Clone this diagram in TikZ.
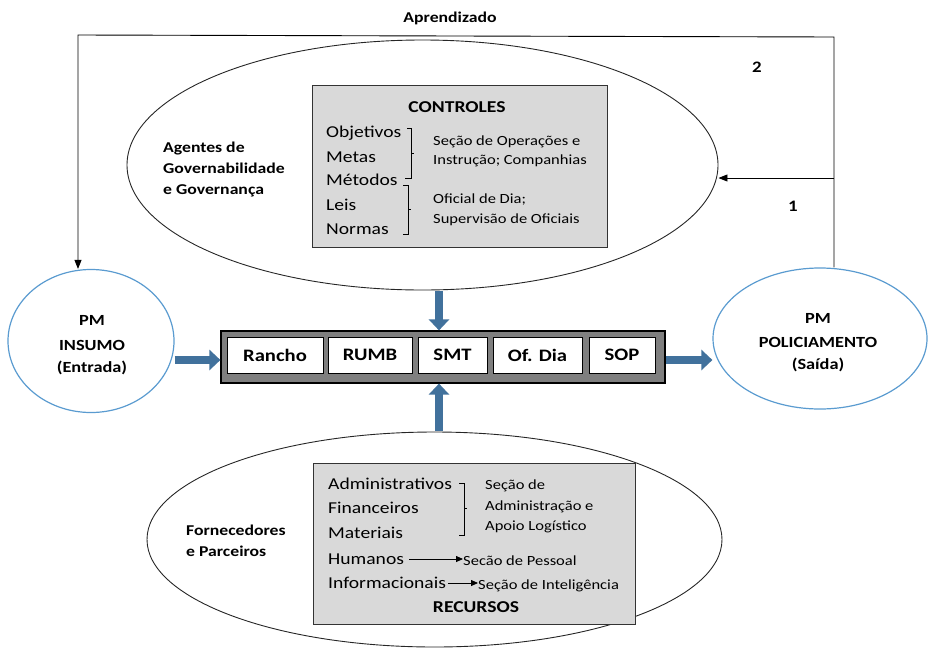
\documentclass[tikz,border=0pt]{standalone}
\usepackage{fontspec}
\setmainfont{Carlito}[FakeStretch=1.18]
\usetikzlibrary{arrows.meta,shapes.geometric}
\definecolor{arrblue}{HTML}{41719C}
\definecolor{ellblue}{HTML}{5A9BD0}
\definecolor{boxgray}{HTML}{D9D9D9}
\definecolor{darkgray}{HTML}{7F7F7F}
\begin{document}
\begin{tikzpicture}[x=1pt,y=-1pt,
  bigell/.style={ellipse,draw=black!85,line width=0.9pt,inner sep=0pt},
  pmell/.style={ellipse,draw=ellblue,line width=1.2pt,inner sep=0pt,align=center,font=\fontsize{15.5}{25}\selectfont\bfseries},
  grayrect/.style={draw=black!80,fill=boxgray,line width=0.9pt,inner sep=0pt},
  cell/.style={draw=black,fill=white,line width=0.9pt,inner sep=0pt,minimum height=36pt,font=\fontsize{17.5}{17.5}\selectfont\bfseries},
  item/.style={anchor=base west,inner sep=0pt,font=\fontsize{16.6}{16.6}\selectfont},
  small/.style={anchor=base west,inner sep=0pt,font=\fontsize{14}{14}\selectfont},
  lbl/.style={anchor=base west,inner sep=0pt,font=\fontsize{15}{15}\selectfont\bfseries},
  pmtxt/.style={anchor=base,inner sep=0pt,font=\fontsize{15.5}{15.5}\selectfont\bfseries},
  thick arrow/.style={draw=arrblue,line width=8pt,-{Triangle[width=20pt,length=11pt]}},
  fb/.style={draw=black,line width=0.9pt},
  brk/.style={draw=black,line width=0.8pt},
  smallarrow/.style={draw=black,line width=0.8pt,-{Triangle[width=6pt,length=7pt]}}
]
\useasboundingbox (0,0) rectangle (928,651);

% big ellipses
\node[bigell,minimum width=591pt,minimum height=250pt] (ctl) at (422.5,165) {};
\node[bigell,minimum width=575pt,minimum height=215pt] (rec) at (434.5,539.5) {};

% PM ellipses
\node[pmell,minimum width=166pt,minimum height=143pt] (insumo) at (91,341) {};
\node[pmell,minimum width=214pt,minimum height=141pt] (saida) at (820,338.5) {};
\node[pmtxt] (t1) at (92,325) {PM};
\node[pmtxt] (t2) at (92,350) {INSUMO};
\node[pmtxt] (t3) at (92,372) {(Entrada)};
\node[pmtxt] (t4) at (818,323) {PM};
\node[pmtxt] (t5) at (818,347) {POLICIAMENTO};
\node[pmtxt] (t6) at (818,369) {(Saída)};

% CONTROLES box
\node[grayrect,minimum width=295pt,minimum height=162pt] (cbox) at (459.5,166) {};
\node[anchor=base,inner sep=0pt,font=\fontsize{16.6}{16.6}\selectfont\bfseries] (ctitle) at (457,112) {CONTROLES};
\node[item] (c1) at (326,137) {Objetivos};
\node[item] (c2) at (326,162) {Metas};
\node[item] (c3) at (326,185) {Métodos};
\node[item] (c4) at (326,210) {Leis};
\node[item] (c5) at (326,234) {Normas};
\node[small] (s1) at (433,145) {Seção de Operações e};
\node[small] (s2) at (433,164) {Instrução; Companhias};
\node[small] (s3) at (433,203) {Oficial de Dia;};
\node[small] (s4) at (433,223) {Supervisão de Oficiais};
\draw[brk] (407,128) -- (411,128) -- (411,178) -- (405,178);
\draw[brk] (411,153) -- (414,153);
\draw[brk] (403,185) -- (408,185) -- (408,234) -- (403,234);
\draw[brk] (408,209) -- (411,209);

% side labels
\node[lbl] (a1) at (163,152) {Agentes de};
\node[lbl] (a2) at (163,173) {Governabilidade};
\node[lbl] (a3) at (163,194) {e Governança};
\node[lbl] (f1) at (186,535) {Fornecedores};
\node[lbl] (f2) at (186,556) {e Parceiros};

% RECURSOS box
\node[grayrect,minimum width=322pt,minimum height=161pt] (rbox) at (474.5,543.5) {};
\node[item] (r1) at (328,489) {Administrativos};
\node[item] (r2) at (328,513) {Financeiros};
\node[item] (r3) at (328,538) {Materiais};
\node[item] (r4) at (328,564) {Humanos};
\node[item] (r5) at (328,588) {Informacionais};
\node[anchor=base,inner sep=0pt,font=\fontsize{16.6}{16.6}\selectfont\bfseries] (rtitle) at (476,612) {RECURSOS};
\node[small] (q1) at (485,489) {Seção de};
\node[small] (q2) at (485,510) {Administração e};
\node[small] (q3) at (485,530) {Apoio Logístico};
\node[small] (q4) at (463,565) {Secão de Pessoal};
\node[small] (q5) at (478,589) {Seção de Inteligência};
\draw[brk] (459,483) -- (464,483) -- (464,535) -- (459,535);
\draw[brk] (464,508) -- (467,508);
\draw[smallarrow] ([xshift=5pt]r4.east |- 0,559) -- (q4.west |- 0,559);
\draw[smallarrow] ([xshift=2pt]r5.east |- 0,583) -- (q5.west |- 0,583);

% middle process box
\node[draw=black,fill=darkgray,line width=1.2pt,minimum width=444pt,minimum height=52pt,inner sep=0pt] (mid) at (443,357) {};
\node[cell,minimum width=96pt] (b1) at (275,355) {Rancho};
\node[cell,minimum width=84pt] (b2) at (370,355) {RUMB};
\node[cell,minimum width=69pt] (b3) at (452.5,355) {SMT};
\node[cell,minimum width=89pt] (b4) at (537.5,355) {Of. Dia};
\node[cell,minimum width=66pt] (b5) at (622,355) {SOP};

% thick blue arrows
\coordinate (dn) at (439,291);
\coordinate (up) at (439,431);
\draw[thick arrow] (dn) -- (dn |- mid.north);
\draw[thick arrow] (up) -- (up |- mid.south);
\draw[thick arrow] (insumo.east |- 0,360) -- (mid.west |- 0,360);
\draw[thick arrow] (mid.east |- 0,360) -- (saida.west |- 0,360);

% feedback loops
\coordinate (tl) at (78,35);
\coordinate (tr) at (834,37);
\coordinate (r1c) at (834,178);
\draw[fb,-{Triangle[width=7pt,length=9pt]}] (saida.north -| tr) -- (tr) -- (tl) -- (insumo.north -| tl);
\draw[fb,-{Triangle[width=7pt,length=9pt]}] (r1c) -- (ctl.east |- r1c);

\node[anchor=base,inner sep=0pt,font=\fontsize{15}{15}\selectfont\bfseries] (apr) at (450,22) {Aprendizado};
\node[anchor=base,inner sep=0pt,font=\fontsize{16}{16}\selectfont\bfseries] (n2) at (757,72) {2};
\node[anchor=base,inner sep=0pt,font=\fontsize{16}{16}\selectfont\bfseries] (n1) at (793,211) {1};
\end{tikzpicture}
\end{document}
